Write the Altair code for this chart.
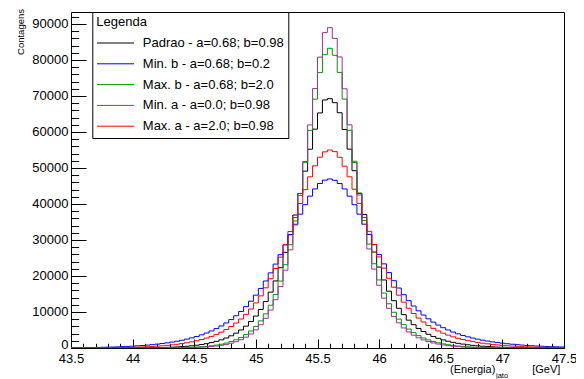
import altair as alt
import pandas as pd

FONT = "Liberation Sans"
X_MIN = 43.5
X_MAX = 47.5
N_BINS = 100
BIN_W = (X_MAX - X_MIN) / N_BINS
Y_MAX = 93333

series_names = [
    "Padrao - a=0.68; b=0.98",
    "Min. b - a=0.68; b=0.2",
    "Max. b - a=0.68; b=2.0",
    "Min. a - a=0.0; b=0.98",
    "Max. a - a=2.0; b=0.98",
]
series_colors = ["#000000", "#0000ff", "#009900", "#993399", "#ff0000"]

padrao = [0, 0, 1, 1, 2, 2, 4, 5, 7, 10, 14, 20, 27, 36, 48, 64, 83, 109, 141, 183,
          235, 301, 384, 487, 615, 772, 966, 1203, 1492, 1841, 2264, 2773, 3385, 4122, 5007,
          6068, 7344, 8874, 10708, 12904, 15525, 18637, 22303, 26572, 31463, 36943, 42899,
          49117, 55227, 60794, 65291, 68900,
          69260,
          68150, 65350, 60700, 55243, 49250, 42944, 37100, 31567, 26650, 22482, 18900, 15784,
          13150, 11039, 9260, 7730, 6476, 5428, 4553, 3819, 3204, 2686, 2249, 1881, 1569,
          1306, 1083, 896, 737, 603, 491, 397, 318, 253, 200, 156, 121, 93, 70, 52, 39, 28,
          20, 14, 10, 7, 4]

min_b = [70, 83, 99, 118, 140, 166, 196, 231, 272, 319, 374, 438, 511, 595, 692, 803, 929,
         1073, 1237, 1424, 1636, 1877, 2150, 2458, 2808, 3204, 3652, 4160, 4734, 5384, 6120,
         6951, 7890, 8952, 10147, 11491, 12998, 14681, 16549, 18611, 20866, 23309, 25920,
         28669, 31506, 34367, 37167, 39808, 42183, 44176, 45686, 46629,
         46950,
         46580, 45686, 44176, 42185, 39812, 37175, 34381, 31528, 28701, 25964, 23367, 20940,
         18701, 16657, 14807, 13143, 11654, 10328, 9150, 8105, 7181, 6363, 5640, 5001, 4435,
         3935, 3492, 3100, 2752, 2443, 2169, 1924, 1707, 1513, 1341, 1187, 1050, 927, 818,
         720, 633, 555, 486, 424, 369, 321, 278]

max_b = [0, 0, 0, 0, 0, 0, 0, 0, 0, 0,
         1, 1, 2, 3, 5, 7, 11, 17, 25, 36, 51, 72, 99, 137, 186, 252, 340, 455, 606, 800,
         1051, 1371, 1777, 2288, 2929, 3731, 4733, 5980, 7535, 9472, 11882, 14879, 18587,
         23146, 28683, 35288, 42948, 51483, 60453, 69125, 76490, 81479,
         83250,
         81300, 76550, 69139, 60479, 51537, 43042, 35430, 28880, 23401, 18899, 15245, 12296,
         9926, 8021, 6488, 5253, 4252, 3441, 2781, 2243, 1803, 1445, 1151, 912, 716, 559,
         431, 329, 249, 185, 136, 98, 69, 48, 33, 22, 14, 9, 6, 4, 2, 1, 1, 0, 0, 0, 0]

min_a = [0, 0, 0, 0, 0, 0, 0, 0, 0, 0, 0, 0,
         1, 1, 2, 3, 4, 7, 10, 16, 24, 36, 53, 76, 108, 152, 212, 293, 402, 548, 741, 996,
         1327, 1755, 2303, 3003, 3892, 5020, 6446, 8250, 10533, 13417, 17050, 21606, 27263,
         34170, 42395, 51805, 61970, 72068, 80799, 87600,
         88980,
         86000, 80850, 72000, 62003, 51876, 42515, 34352, 27508, 21917, 17424, 13848, 11012,
         8767, 6988, 5576, 4448, 3548, 2824, 2243, 1774, 1396, 1092, 848, 652, 496, 373, 277,
         202, 145, 102, 71, 48, 31, 20, 13, 8, 5, 3, 2, 1, 1, 0, 0, 0, 0, 0, 0]

max_a = [14, 18, 23, 29, 37, 46, 57, 71, 88, 108, 132, 162, 198, 240, 292, 353, 425, 511,
         613, 733, 873, 1037, 1229, 1453, 1712, 2014, 2363, 2768, 3236, 3776, 4402, 5125,
         5962, 6929, 8045, 9335, 10820, 12528, 14485, 16716, 19243, 22079, 25226, 28668,
         32360, 36226, 40154, 43988, 47543, 50610, 52982, 54485,
         55000,
         54550, 52982, 50500, 47549, 44100, 40170, 36254, 32403, 28728, 25307, 22182, 19370,
         16869, 14663, 12731, 11047, 9584, 8315, 7218, 6267, 5444, 4731, 4113, 3578, 3112,
         2706, 2353, 2045, 1776, 1541, 1335, 1156, 998, 860, 740, 634, 542, 462, 392, 331,
         279, 233, 194, 161, 133, 108, 88]

series_values = [padrao, min_b, max_b, min_a, max_a]
for vals in series_values:
    assert len(vals) == N_BINS, len(vals)

x_major = [43.5, 44, 44.5, 45, 45.5, 46, 46.5, 47, 47.5]
x_minor = [round(X_MIN + 0.1 * i, 1) for i in range(41)]
y_major = [0, 10000, 20000, 30000, 40000, 50000, 60000, 70000, 80000, 90000]
y_minor = list(range(0, 93000, 2000))

rows = []
for name, vals in zip(series_names, series_values):
    for i, v in enumerate(vals):
        rows.append({"serie": name, "energia": X_MIN + i * BIN_W, "contagens": v})
    rows.append({"serie": name, "energia": X_MAX, "contagens": vals[-1]})
df = pd.DataFrame(rows)

x_scale = alt.Scale(domain=[X_MIN, X_MAX], nice=False, zero=False)
y_scale = alt.Scale(domain=[0, Y_MAX], nice=False, zero=True)

ax_x = alt.Axis(values=x_major, format="~g", orient="bottom", offset=-9, tickSize=9,
                tickColor="black", tickWidth=1, domain=False, grid=False,
                labelFont=FONT, labelFontSize=13, labelColor="black", labelPadding=4,
                labelFlush=False, labelOverlap=False, title=None)
ax_y = alt.Axis(values=y_major, format="d", orient="left", offset=-15, tickSize=15,
                tickColor="black", tickWidth=1, domain=False, grid=False,
                labelFont=FONT, labelFontSize=13, labelColor="black", labelPadding=3,
                labelBaseline={"condition": {"test": "datum.value === 0", "value": "alphabetic"},
                               "value": "middle"},
                labelOverlap=False, title=None)
ax_x_minor = alt.Axis(values=x_minor, orient="bottom", offset=-4.7, tickSize=4.7,
                      tickColor="black", tickWidth=1, domain=False, grid=False,
                      labels=False, title=None)
ax_y_minor = alt.Axis(values=y_minor, orient="left", offset=-7.7, tickSize=7.7,
                      tickColor="black", tickWidth=1, domain=False, grid=False,
                      labels=False, title=None)

# line sample 37 px long: custom path scaled by sqrt(size)/2 = 9.25
legend = alt.Legend(
    title="Legenda", orient="none", legendX=21.3, legendY=0, direction="vertical",
    symbolType="M-1,0H3", symbolSize=342, symbolStrokeWidth=1,
    labelFont=FONT, labelFontSize=13, labelColor="black", labelOffset=26.5, labelLimit=400,
    titleFont=FONT, titleFontSize=13, titleFontWeight="normal", titleColor="black",
    titlePadding=4, rowPadding=3.8, padding=4,
    strokeColor="black", fillColor="white",
    labelExpr="datum.label + '\u00a0\u00a0\u00a0\u00a0'",
)
color = alt.Color("serie:N", scale=alt.Scale(domain=series_names, range=series_colors),
                  legend=legend)

layers = []
for idx, name in enumerate(series_names):
    first = idx == 0
    layers.append(
        alt.Chart(df)
        .transform_filter(alt.datum.serie == name)
        .mark_line(interpolate="step-after", strokeWidth=1, clip=True)
        .encode(
            x=alt.X("energia:Q", scale=x_scale, axis=ax_x if first else None),
            y=alt.Y("contagens:Q", scale=y_scale, axis=ax_y if first else None),
            color=color,
        )
    )

minor = alt.Chart(df).mark_point(opacity=0, size=1).encode(
    x=alt.X("energia:Q", scale=x_scale, axis=ax_x_minor),
    y=alt.Y("contagens:Q", scale=y_scale, axis=ax_y_minor),
)

def label(text, x, y, size, align="left", angle=0):
    return alt.Chart(pd.DataFrame({"t": [text]})).mark_text(
        font=FONT, fontSize=size, color="black", align=align, baseline="middle", angle=angle
    ).encode(x=alt.value(x), y=alt.value(y), text="t:N")

titles = [
    label("Contagens", -50, -3, 9.5, align="right", angle=270),
    label("(Energia)", 424.3, 358, 11, align="right"),
    label("jato", 425.0, 363.5, 7.5, align="left"),
    label("[GeV]", 489.3, 358, 11, align="right"),
]

chart = (
    alt.layer(*layers, minor, *titles)
    .resolve_axis(x="independent", y="independent")
    .properties(
        width=493, height=336,
        padding={"left": 63, "top": 4, "right": 12, "bottom": 31},
        autosize=alt.AutoSizeParams(type="none"),
        background="white",
    )
    .configure_view(stroke="black", strokeWidth=1)
)

chart.save("out.html", embed_options={"renderer": "svg", "actions": False})
